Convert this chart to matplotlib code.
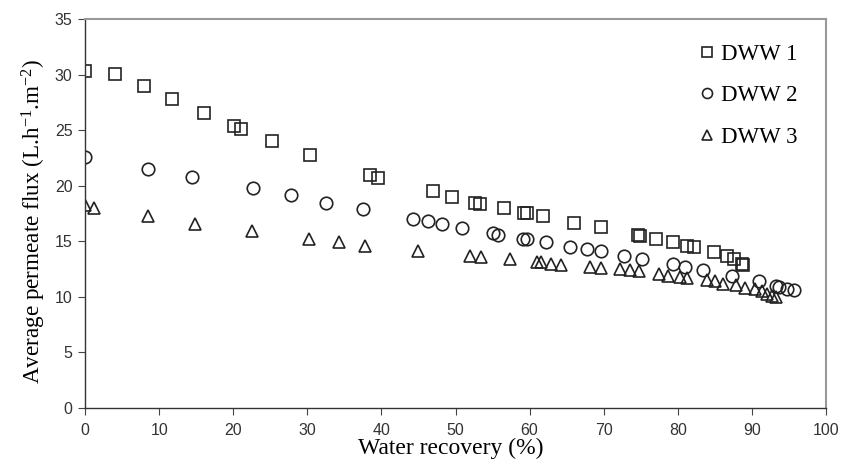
import matplotlib
matplotlib.use("Agg")
import matplotlib.pyplot as plt

plt.rcParams['mathtext.fontset'] = 'custom'
plt.rcParams['mathtext.rm'] = 'Liberation Serif'
plt.rcParams['mathtext.it'] = 'Liberation Serif:italic'

dww1_x = [0, 4.1, 7.9, 11.8, 16.0, 20.1, 21.1, 25.2, 30.3, 38.4, 39.6, 47.0, 49.5, 52.6, 53.3,
          56.5, 59.3, 59.6, 61.8, 66.0, 69.6, 74.6, 74.9, 77.1, 79.4, 81.3, 82.2, 84.9, 86.6,
          87.6, 88.6, 88.8]
dww1_y = [30.3, 30.1, 29.0, 27.8, 26.6, 25.4, 25.1, 24.0, 22.8, 21.0, 20.7, 19.5, 19.0, 18.5, 18.4,
          18.0, 17.6, 17.6, 17.3, 16.7, 16.3, 15.6, 15.5, 15.2, 14.9, 14.6, 14.5, 14.0, 13.7,
          13.4, 13.0, 12.9]

dww2_x = [0, 8.5, 14.4, 22.7, 27.8, 32.5, 37.5, 44.2, 46.3, 48.2, 50.9, 55.0, 55.8, 59.1, 59.7,
          62.2, 65.4, 67.8, 69.7, 72.7, 75.2, 79.3, 81.0, 83.4, 87.3, 91.0, 93.2, 93.6, 94.8, 95.7]
dww2_y = [22.6, 21.5, 20.8, 19.8, 19.2, 18.5, 17.9, 17.0, 16.8, 16.6, 16.2, 15.8, 15.6, 15.2, 15.2,
          14.9, 14.5, 14.3, 14.1, 13.7, 13.4, 13.0, 12.7, 12.4, 11.9, 11.4, 11.0, 10.9, 10.7, 10.6]

dww3_x = [0, 1.2, 8.5, 14.9, 22.6, 30.2, 34.3, 37.8, 45.0, 51.9, 53.5, 57.3, 61.0, 61.6, 62.9,
          64.3, 68.1, 69.7, 72.2, 73.5, 74.7, 77.4, 78.7, 80.3, 81.2, 83.9, 85.0, 86.1, 87.9,
          89.1, 90.4, 91.3, 92.0, 92.7, 93.2]
dww3_y = [18.3, 18.0, 17.3, 16.6, 15.9, 15.2, 14.9, 14.6, 14.1, 13.7, 13.6, 13.4, 13.1, 13.1, 13.0,
          12.9, 12.7, 12.6, 12.5, 12.4, 12.3, 12.1, 11.9, 11.8, 11.7, 11.5, 11.4, 11.2, 11.1,
          10.8, 10.7, 10.5, 10.3, 10.1, 10.0]

labels = ["DWW 1", "DWW 2", "DWW 3"]
x_ticks = [0, 10, 20, 30, 40, 50, 60, 70, 80, 90, 100]
y_ticks = [0, 5, 10, 15, 20, 25, 30, 35]

fig = plt.figure(figsize=(8.42, 4.65), dpi=100)
ax = fig.add_axes([0.101, 0.1226, 0.880, 0.836])

ec = '#222222'
ms_kw = dict(linestyle='none', markerfacecolor='none', markeredgecolor=ec, markeredgewidth=1.2)
ax.plot(dww1_x, dww1_y, marker='s', markersize=9, label=labels[0], **ms_kw)
ax.plot(dww2_x, dww2_y, marker='o', markersize=9, label=labels[1], **ms_kw)
ax.plot(dww3_x, dww3_y, marker='^', markersize=9, label=labels[2], **ms_kw)

ax.set_xlim(0, 100)
ax.set_ylim(0, 35)
ax.set_xticks(x_ticks)
ax.set_yticks(y_ticks)
ax.tick_params(direction='out', length=5, width=0.8, colors='#444444',
               labelsize=11.5, labelcolor='#333333', pad=4)
ax.tick_params(axis='x', pad=6)
for lab in ax.get_xticklabels() + ax.get_yticklabels():
    lab.set_fontfamily('Liberation Sans')

for s in ['left', 'bottom']:
    ax.spines[s].set_color('#333333')
    ax.spines[s].set_linewidth(1.0)
for s in ['top', 'right']:
    ax.spines[s].set_color('#999999')
    ax.spines[s].set_linewidth(1.5)

ax.set_xlabel("Water recovery (%)", fontfamily='Liberation Serif', fontsize=17, labelpad=0)
ax.xaxis.label.set_x(0.494)
ax.set_ylabel(r"Average permeate flux (L.h$^{-1}$.m$^{-2}$)", fontfamily='Liberation Serif',
              fontsize=16.7, labelpad=5)
ax.yaxis.label.set_y(0.48)

leg = ax.legend(loc='upper right', frameon=False, prop={'family': 'Liberation Serif', 'size': 16.5},
                markerscale=0.8, handlelength=0.6, handletextpad=0.3, labelspacing=0.9,
                bbox_to_anchor=(0.989, 0.99))

fig.savefig("out.png", dpi=100)
